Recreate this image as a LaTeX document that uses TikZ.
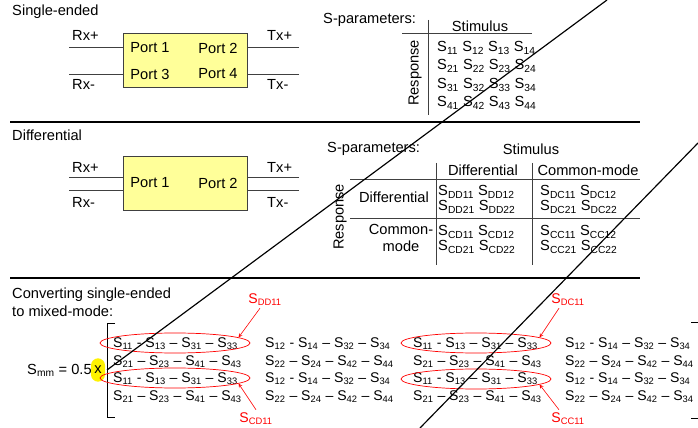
\documentclass[tikz,border=0pt]{standalone}
\usepackage{fontspec}
\setmainfont{Liberation Sans}
\usetikzlibrary{positioning,shapes.geometric}
\definecolor{portyellow}{HTML}{FFFF99}
\newcommand{\Sp}[1]{S\textsubscript{#1}}

\begin{document}
\begin{tikzpicture}
[x=0.03cm, y=-0.03cm, font=\fontsize{12.5}{15}\selectfont]
\tikzstyle{txt}=[inner sep=0pt, anchor=west]
\tikzstyle{mtx}=[inner sep=0pt, anchor=west, font=\fontsize{12}{14}\selectfont]
\tikzstyle{dut}=[draw=black!75, fill=portyellow, minimum width=3.72cm, minimum height=1.62cm]
\tikzstyle{wire}=[draw=black!75, line width=0.6pt]
\tikzstyle{rule}=[line width=1.2pt]
\tikzstyle{grid}=[draw=black!75, line width=0.6pt]
\tikzstyle{ring}=[ellipse, draw=red, line width=0.6pt, minimum width=4.5cm, minimum height=0.6cm, inner sep=0pt]
\tikzstyle{redlbl}=[red, inner sep=0pt, font=\fontsize{12}{14}\selectfont]
\tikzstyle{pointer}=[red, line width=0.5pt, ->, >=stealth]
\useasboundingbox (0,0) rectangle (698,428);

% single-ended
\node[txt]	(SEtitle)	at (12,12)	{Single-ended};
\node[dut]	(DUT1)	at (185,60)	{};
\node	(P1)	at (150,48)	{Port 1};
\node	(P2)	at (218,48)	{Port 2};
\node	(P3)	at (150,74)	{Port 3};
\node	(P4)	at (218,74)	{Port 4};
\coordinate	(RxpA)	at (69,47);
\coordinate	(RxmA)	at (69,74);
\coordinate	(TxpA)	at (299,47);
\coordinate	(TxmA)	at (299,74);
\draw[wire]	(RxpA) -- (RxpA -| DUT1.west);
\draw[wire]	(RxmA) -- (RxmA -| DUT1.west);
\draw[wire]	(TxpA) -- (TxpA -| DUT1.east);
\draw[wire]	(TxmA) -- (TxmA -| DUT1.east);
\node[txt]	(RxpLbl)	at (72,35)	{Rx+};
\node[txt]	(RxmLbl)	at (72,84)	{Rx-};
\node[txt]	(TxpLbl)	at (267,35)	{Tx+};
\node[txt]	(TxmLbl)	at (267,84)	{Tx-};

\node[txt]	(SPtitleA)	at (323,20)	{S-parameters:};
\node	(StimA)	at (480,26)	{Stimulus};
\node[rotate=90]	(RespA)	at (415,73)	{Response};
\draw[grid]	(428,20) -- (428,115);
\draw[grid]	(402,33) -- (532,33);
\node[txt]	(RowA1)	at (437,48)	{\Sp{11} \Sp{12} \Sp{13} \Sp{14}};
\node[txt]	(RowA2)	at (437,66)	{\Sp{21} \Sp{22} \Sp{23} \Sp{24}};
\node[txt]	(RowA3)	at (437,85)	{\Sp{31} \Sp{32} \Sp{33} \Sp{34}};
\node[txt]	(RowA4)	at (437,103)	{\Sp{41} \Sp{42} \Sp{43} \Sp{44}};

\draw[rule]	(10,122) -- (640,122);

% differential
\node[txt]	(DFtitle)	at (12,135)	{Differential};
\node[dut]	(DUT2)	at (185,183)	{};
\node	(Q1)	at (150,183)	{Port 1};
\node	(Q2)	at (218,183)	{Port 2};
\coordinate	(RxpB)	at (69,177);
\coordinate	(RxmB)	at (69,190);
\coordinate	(TxpB)	at (299,177);
\coordinate	(TxmB)	at (299,190);
\draw[wire]	(RxpB) -- (RxpB -| DUT2.west);
\draw[wire]	(RxmB) -- (RxmB -| DUT2.west);
\draw[wire]	(TxpB) -- (TxpB -| DUT2.east);
\draw[wire]	(TxmB) -- (TxmB -| DUT2.east);
\node[txt]	(RxpLblB)	at (72,167)	{Rx+};
\node[txt]	(RxmLblB)	at (72,202)	{Rx-};
\node[txt]	(TxpLblB)	at (267,167)	{Tx+};
\node[txt]	(TxmLblB)	at (267,202)	{Tx-};

\node[txt]	(SPtitleB)	at (327,149)	{S-parameters:};
\node	(StimB)	at (531,149)	{Stimulus};
\node	(HdDiff)	at (483,170)	{Differential};
\node	(HdComm)	at (588,170)	{Common-mode};
\node[rotate=90]	(RespB)	at (340,217)	{Response};
\node	(RwDiff)	at (394,197)	{Differential};
\node[align=center, font=\fontsize{12.5}{14.5}\selectfont]	(RwComm)	at (401,238)	{Common-\\mode};
\draw[grid]	(436,163) -- (436,265);
\draw[grid]	(532,163) -- (532,265);
\draw[grid]	(350,179) -- (640,179);
\draw[grid]	(350,218) -- (640,218);
\node[txt]	(DD1)	at (438,192)	{\Sp{DD11} \Sp{DD12}};
\node[txt]	(DD2)	at (438,207)	{\Sp{DD21} \Sp{DD22}};
\node[txt]	(CD1)	at (438,232)	{\Sp{CD11} \Sp{CD12}};
\node[txt]	(CD2)	at (438,247)	{\Sp{CD21} \Sp{CD22}};
\node[txt]	(DC1)	at (540,192)	{\Sp{DC11} \Sp{DC12}};
\node[txt]	(DC2)	at (540,207)	{\Sp{DC21} \Sp{DC22}};
\node[txt]	(CC1)	at (540,232)	{\Sp{CC11} \Sp{CC12}};
\node[txt]	(CC2)	at (540,247)	{\Sp{CC21} \Sp{CC22}};

\draw[rule]	(10,278) -- (640,278);

% conversion
\node[txt, align=left, font=\fontsize{12.5}{15.4}\selectfont]	(CVtitle)	at (12,302)	{Converting single-ended\\to mixed-mode:};
\node[txt]	(Smm)	at (27,370)	{\Sp{mm} = 0.5};
\node[fill=yellow, rounded corners=6pt, inner sep=0pt, minimum width=0.42cm, minimum height=0.7cm]	(Xmul)	at (98,370)	{x};
\draw[line width=0.6pt]	(115,323) -- (107,323) -- (107,417) -- (115,417);
\draw[line width=0.6pt]	(691,322) -- (699,322) -- (699,418) -- (691,418);

\node[mtx]	(M11)	at (113,344)	{\Sp{11} - \Sp{13} -- \Sp{31} -- \Sp{33}};
\node[mtx]	(M12)	at (265,344)	{\Sp{12} - \Sp{14} -- \Sp{32} -- \Sp{34}};
\node[mtx]	(M13)	at (413,344)	{\Sp{11} - \Sp{13} -- \Sp{31} -- \Sp{33}};
\node[mtx]	(M14)	at (565,344)	{\Sp{12} - \Sp{14} -- \Sp{32} -- \Sp{34}};
\node[mtx]	(M21)	at (113,362)	{\Sp{21} -- \Sp{23} -- \Sp{41} -- \Sp{43}};
\node[mtx]	(M22)	at (265,362)	{\Sp{22} -- \Sp{24} -- \Sp{42} -- \Sp{44}};
\node[mtx]	(M23)	at (413,362)	{\Sp{21} -- \Sp{23} -- \Sp{41} -- \Sp{43}};
\node[mtx]	(M24)	at (565,362)	{\Sp{22} -- \Sp{24} -- \Sp{42} -- \Sp{44}};
\node[mtx]	(M31)	at (113,379)	{\Sp{11} - \Sp{13} -- \Sp{31} -- \Sp{33}};
\node[mtx]	(M32)	at (265,379)	{\Sp{12} - \Sp{14} -- \Sp{32} -- \Sp{34}};
\node[mtx]	(M33)	at (413,379)	{\Sp{11} - \Sp{13} -- \Sp{31} -- \Sp{33}};
\node[mtx]	(M34)	at (565,379)	{\Sp{12} - \Sp{14} -- \Sp{32} -- \Sp{34}};
\node[mtx]	(M41)	at (113,397)	{\Sp{21} -- \Sp{23} -- \Sp{41} -- \Sp{43}};
\node[mtx]	(M42)	at (265,397)	{\Sp{22} -- \Sp{24} -- \Sp{42} -- \Sp{44}};
\node[mtx]	(M43)	at (413,397)	{\Sp{21} -- \Sp{23} -- \Sp{41} -- \Sp{43}};
\node[mtx]	(M44)	at (565,397)	{\Sp{22} -- \Sp{24} -- \Sp{42} -- \Sp{34}};

\node[ring]	(E1)	at (175,343)	{};
\node[ring]	(E2)	at (175,378)	{};
\node[ring]	(E3)	at (476,343)	{};
\node[ring]	(E4)	at (476,379)	{};
\node[redlbl]	(SDD)	at (265,300)	{\Sp{DD11}};
\node[redlbl]	(SCD)	at (256,419)	{\Sp{CD11}};
\node[redlbl]	(SDC)	at (568,300)	{\Sp{DC11}};
\node[redlbl]	(SCC)	at (568,419)	{\Sp{CC11}};
\draw[pointer]	(SDD.south) ++(-5,2) -- (E1.5);
\draw[pointer]	(SCD.north) ++(0,-3) -- (E2.-5);
\draw[pointer]	(SDC.south) ++(-9,2) -- (E3.5);
\draw[pointer]	(SCC.north) ++(-9,-3) -- (E4.-5);

% crossing strokes
\draw[line width=1pt]	(107,370) -- (607,0);
\draw[line width=1pt]	(698,143) -- (420,428);
\end{tikzpicture}
\end{document}
